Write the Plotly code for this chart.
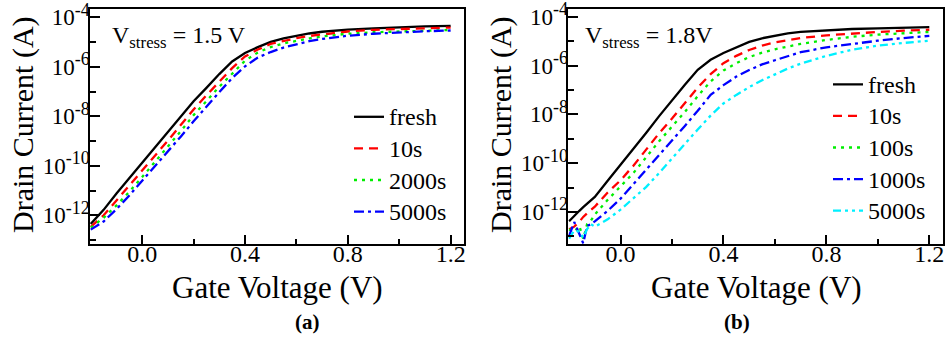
import plotly.graph_objects as go

# ---------------- data (log10 of drain current in A) ----------------
vg_a = [-0.2, -0.15, -0.1, -0.05, 0.0, 0.05, 0.1, 0.15, 0.2, 0.25, 0.3, 0.35, 0.4,
        0.45, 0.5, 0.55, 0.6, 0.65, 0.7, 0.8, 0.9, 1.0, 1.1, 1.2]
a_fresh = [-12.35, -11.78, -11.12, -10.5, -9.88, -9.27, -8.67, -8.03, -7.39, -6.85, -6.29, -5.78,
           -5.44, -5.2, -4.99, -4.85, -4.74, -4.65, -4.58, -4.49, -4.44, -4.39, -4.36, -4.34]
a_10s = [-12.47, -12.0, -11.4, -10.8, -10.2, -9.58, -8.98, -8.35, -7.72, -7.15, -6.58, -6.05,
         -5.58, -5.3, -5.07, -4.94, -4.84, -4.75, -4.68, -4.57, -4.5, -4.46, -4.43, -4.41]
a_2000s = [-12.5, -12.1, -11.6, -11.05, -10.45, -9.85, -9.22, -8.6, -7.95, -7.38, -6.8, -6.28,
           -5.75, -5.42, -5.2, -5.05, -4.94, -4.85, -4.77, -4.66, -4.6, -4.56, -4.53, -4.51]
a_5000s = [-12.58, -12.25, -11.75, -11.2, -10.6, -10.02, -9.42, -8.82, -8.2, -7.6, -7.02, -6.45,
           -5.98, -5.62, -5.4, -5.22, -5.08, -4.96, -4.87, -4.74, -4.66, -4.6, -4.56, -4.53]

vg_b = [-0.2, -0.18, -0.16, -0.145, -0.13, -0.115, -0.1, -0.05, 0.0, 0.05, 0.1, 0.15, 0.2, 0.25,
        0.3, 0.35, 0.4, 0.45, 0.5, 0.55, 0.6, 0.65, 0.7, 0.8, 0.9, 1.0, 1.1, 1.2]
b_fresh = [-12.38, -12.15, -11.95, -11.8, -11.65, -11.5, -11.38, -10.72, -10.07, -9.4, -8.75, -8.07,
           -7.42, -6.78, -6.17, -5.76, -5.48, -5.25, -5.03, -4.88, -4.77, -4.68, -4.62, -4.55,
           -4.5, -4.47, -4.44, -4.42]
b_10s = [-12.71, -12.6, -12.4, -12.2, -12.05, -11.92, -11.78, -11.2, -10.7, -10.1, -9.42, -8.77,
         -8.17, -7.55, -6.9, -6.35, -5.9, -5.6, -5.36, -5.18, -5.05, -4.96, -4.87, -4.76,
         -4.68, -4.62, -4.57, -4.53]
b_100s = [-12.71, -12.82, -12.57, -13.1, -12.5, -12.35, -12.1, -11.5, -10.95, -10.4, -9.75, -9.1,
          -8.5, -7.9, -7.25, -6.65, -6.2, -5.9, -5.65, -5.47, -5.33, -5.22, -5.11, -4.95,
          -4.82, -4.73, -4.67, -4.62]
b_1000s = [-12.98, -12.41, -12.9, -13.28, -12.57, -12.5, -12.38, -11.95, -11.45, -10.86, -10.28, -9.67,
           -9.07, -8.47, -7.85, -7.2, -6.8, -6.45, -6.18, -5.95, -5.78, -5.62, -5.45, -5.25,
           -5.1, -4.98, -4.87, -4.78]
b_5000s = [-13.09, -12.75, -12.8, -13.05, -12.7, -12.5, -12.6, -12.3, -11.9, -11.45, -10.97, -10.4,
           -9.8, -9.22, -8.62, -8.05, -7.55, -7.2, -6.88, -6.6, -6.35, -6.12, -5.92, -5.6,
           -5.35, -5.18, -5.07, -4.98]

names_a = ["fresh", "10s", "2000s", "5000s"]
names_b = ["fresh", "10s", "100s", "1000s", "5000s"]
ytick_exp = [-4, -6, -8, -10, -12]
yminor_exp = [-5, -7, -9, -11, -13]
xtick_vals = [0.0, 0.4, 0.8, 1.2]
xminor_vals = [0.2, 0.6, 1.0]

# ---------------- styles ----------------
FONT = "Liberation Serif"
W, H = 946, 340
LW = 2.3
styles = {
    "fresh": dict(color="#000000", dash="solid"),
    "10s": dict(color="#ff0000", dash="9px,6px"),
    "100s": dict(color="#00ee00", dash="3px,5px"),
    "2000s": dict(color="#00ee00", dash="3px,5px"),
    "1000s": dict(color="#0000ff", dash="10px,4px,3px,4px"),
    "5000s_a": dict(color="#0000ff", dash="10px,4px,3px,4px"),
    "5000s_b": dict(color="#00f0ff", dash="8px,4px,3px,4px,3px,4px"),
}

def amps(logs):
    return [10 ** v for v in logs]

fig = go.Figure()
for nm, ys in zip(names_a, [a_fresh, a_10s, a_2000s, a_5000s]):
    st = styles["5000s_a"] if nm == "5000s" else styles[nm]
    fig.add_trace(go.Scatter(x=vg_a, y=amps(ys), mode="lines",
                             name=f"<span style='font-size:24px'>{nm}</span>",
                             line=dict(color=st["color"], dash=st["dash"], width=LW),
                             xaxis="x", yaxis="y", legend="legend"))
for nm, ys in zip(names_b, [b_fresh, b_10s, b_100s, b_1000s, b_5000s]):
    st = styles["5000s_b"] if nm == "5000s" else styles[nm]
    fig.add_trace(go.Scatter(x=vg_b, y=amps(ys), mode="lines",
                             name=f"<span style='font-size:24px'>{nm}</span>",
                             line=dict(color=st["color"], dash=st["dash"], width=LW),
                             xaxis="x2", yaxis="y2", legend="legend2"))

def px_x(p):
    return p / W

def px_y(p):
    return (H - p) / H

ytext = [f"10<sup><span style='font-size:18px'>{e}</span></sup>" for e in ytick_exp]

def xax(domain, anchor):
    return dict(domain=domain, anchor=anchor, range=[-0.203, 1.252],
                tickvals=xtick_vals, ticktext=[f"{v:.1f}" for v in xtick_vals],
                ticks="inside", ticklen=9, tickwidth=1.5, tickcolor="black",
                minor=dict(tickvals=xminor_vals, ticks="inside", ticklen=5, tickwidth=1.5,
                           tickcolor="black"),
                showline=True, mirror=True, linecolor="black", linewidth=1.5,
                showgrid=False, zeroline=False, automargin=False,
                ticklabeloverflow="allow", ticklabelstandoff=-13,
                tickfont=dict(family=FONT, size=24, color="black"))

def yax(rng, anchor):
    return dict(domain=[px_y(244), px_y(9)], anchor=anchor, type="log", range=rng,
                tickvals=[10 ** e for e in ytick_exp], ticktext=ytext,
                ticks="inside", ticklen=10, tickwidth=1.5, tickcolor="black",
                minor=dict(tickvals=[10 ** e for e in yminor_exp], ticks="inside", ticklen=6,
                           tickwidth=1.5, tickcolor="black"),
                showline=True, mirror=True, linecolor="black", linewidth=1.5,
                showgrid=False, zeroline=False, automargin=False,
                ticklabeloverflow="allow", ticklabelstandoff=-6,
                tickfont=dict(family=FONT, size=23, color="black"))

leg_common = dict(xanchor="left", yanchor="top", bgcolor="rgba(0,0,0,0)", borderwidth=0,
                  font=dict(family=FONT, size=22, color="black"), tracegroupgap=0)

fig.update_layout(
    width=W, height=H, margin=dict(l=0, r=0, t=0, b=0),
    paper_bgcolor="white", plot_bgcolor="white", template="none",
    font=dict(family=FONT, color="black"),
    xaxis=xax([px_x(90), px_x(464)], "y"),
    yaxis=yax([-13.16, -3.66], "x"),
    xaxis2=xax([px_x(568.3), px_x(942.7)], "y2"),
    yaxis2=yax([-13.31, -3.68], "x2"),
    legend=dict(x=px_x(349), y=px_y(96), **leg_common),
    legend2=dict(x=px_x(828), y=px_y(63.5), **leg_common),
)

ann = [
    dict(text="Drain Current (A)", x=px_x(23), y=px_y(125), textangle=-90, size=30),
    dict(text="Drain Current (A)", x=px_x(501), y=px_y(125), textangle=-90, size=30),
    dict(text="Gate Voltage (V)", x=px_x(277), y=px_y(287), size=31),
    dict(text="Gate Voltage (V)", x=px_x(756), y=px_y(287), size=31),
    dict(text="<b>(a)</b>", x=px_x(307), y=px_y(322), size=21),
    dict(text="<b>(b)</b>", x=px_x(737), y=px_y(322), size=21),
]
for a in ann:
    fig.add_annotation(text=a["text"], x=a["x"], y=a["y"], xref="paper", yref="paper",
                       xanchor="center", yanchor="middle", showarrow=False,
                       textangle=a.get("textangle", 0),
                       font=dict(family=FONT, size=a["size"], color="black"))

for txt, xp in [("V<sub>stress</sub> = 1.5 V", 110), ("V<sub>stress</sub> = 1.8V", 583)]:
    fig.add_annotation(text=txt, x=px_x(xp), y=px_y(37), xref="paper", yref="paper",
                       xanchor="left", yanchor="middle", showarrow=False,
                       font=dict(family=FONT, size=24, color="black"))

fig.write_html("out.html", config={"displayModeBar": False},
               post_script="document.body.style.margin='0';document.body.style.padding='0';")
